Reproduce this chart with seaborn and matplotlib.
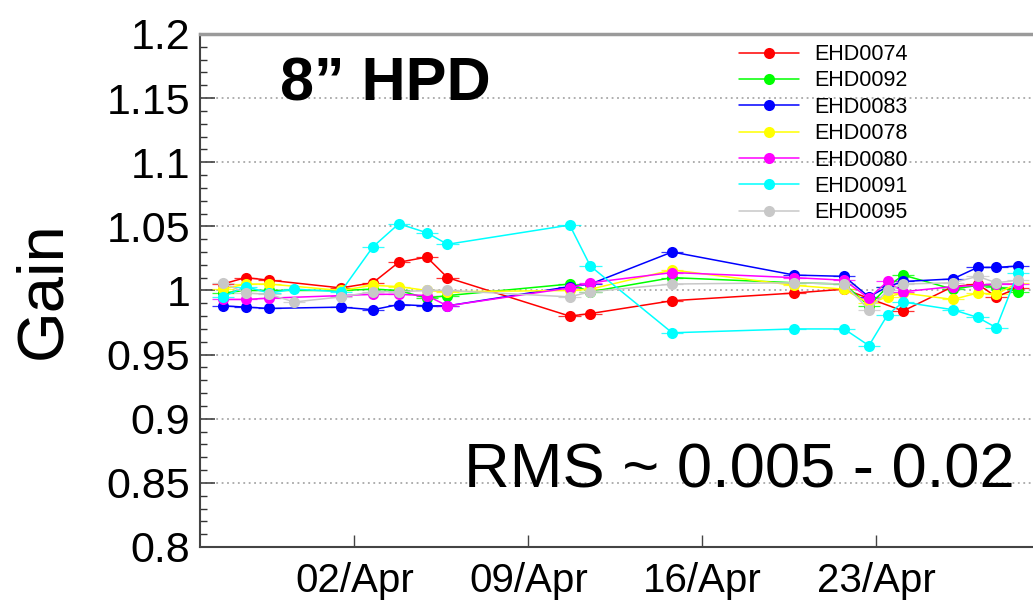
import matplotlib
matplotlib.use("Agg")
import matplotlib.pyplot as plt
import matplotlib.dates as mdates
from matplotlib.ticker import MultipleLocator
import numpy as np
import pandas as pd
import seaborn as sns

# Measurement times (one run per entry)
run_times = [
    "2014-03-27 17:00", "2014-03-28 15:00", "2014-03-29 14:00", "2014-03-30 14:00",
    "2014-04-01 11:00", "2014-04-02 18:00", "2014-04-03 19:00", "2014-04-04 22:00",
    "2014-04-05 18:00", "2014-04-10 16:00", "2014-04-11 12:00", "2014-04-14 19:00",
    "2014-04-19 17:00", "2014-04-21 17:00", "2014-04-22 17:00", "2014-04-23 11:00",
    "2014-04-24 02:00", "2014-04-26 02:00", "2014-04-27 02:00", "2014-04-27 20:00",
    "2014-04-28 17:00",
]

tubes = ["EHD0074", "EHD0092", "EHD0083", "EHD0078", "EHD0080", "EHD0091", "EHD0095"]
tube_colors = ["#ff0000", "#00ff00", "#0000ff", "#ffff00", "#ff00ff", "#00ffff", "#c8c8c8"]

# Relative gain per run (None = tube not measured in that run)
gain_ehd0074 = [1.005, 1.010, 1.008, None, 1.002, 1.006, 1.022, 1.026, 1.010, 0.980, 0.982,
                0.992, 0.998, 1.001, None, None, 0.984, 1.003, 1.005, 0.995, 1.002]
gain_ehd0092 = [0.998, 1.000, 1.000, None, 1.000, 1.001, 1.000, 0.994, 0.996, 1.005, 0.999,
                1.010, 1.006, 1.005, 0.988, 1.003, 1.012, 1.001, 1.004, 1.003, 0.999]
gain_ehd0083 = [0.988, 0.987, 0.986, None, 0.987, 0.985, 0.989, 0.988, 0.988, 1.003, 1.005,
                1.030, 1.012, 1.011, 0.995, 1.003, 1.007, 1.009, 1.018, 1.018, 1.019]
gain_ehd0078 = [1.001, 1.005, 1.005, None, 1.000, 1.004, 1.003, 1.000, 0.999, 1.000, 1.001,
                1.016, 1.004, 1.001, 0.990, 0.995, 0.998, 0.993, 0.998, 0.997, 1.006]
gain_ehd0080 = [0.993, 0.993, 0.994, None, 0.996, 0.997, 0.997, 0.996, 0.988, 1.002, 1.006,
                1.014, 1.010, 1.008, 0.994, 1.007, 0.999, 1.003, 1.004, 1.005, 1.005]
gain_ehd0091 = [0.995, 1.003, 0.998, 1.001, 0.999, 1.034, 1.052, 1.045, 1.036, 1.051, 1.019,
                0.967, 0.970, 0.970, 0.957, 0.981, 0.991, 0.985, 0.979, 0.971, 1.014]
gain_ehd0095 = [1.006, 0.998, 0.997, 0.991, 0.995, 0.999, 0.999, 1.000, 1.000, 0.995, 0.999,
                1.005, 1.006, 1.005, 0.985, 1.000, 1.005, 1.006, 1.011, 1.006, 1.008]

gain_series = [gain_ehd0074, gain_ehd0092, gain_ehd0083, gain_ehd0078,
               gain_ehd0080, gain_ehd0091, gain_ehd0095]

# Uncertainty on each point: run duration (days) and gain error
time_err_days = 0.45
gain_err = 0.003

rows = []
for tube, values in zip(tubes, gain_series):
    for t, g in zip(run_times, values):
        if g is not None:
            rows.append({"time": pd.Timestamp(t), "gain": g, "tube": tube})
df = pd.DataFrame(rows)

sns.set_theme(style="white")
plt.rcParams["font.family"] = ["Liberation Sans", "DejaVu Sans"]
for key in ["text.color", "axes.labelcolor", "xtick.color", "ytick.color"]:
    plt.rcParams[key] = "black"

fig = plt.figure(figsize=(10.33, 6.05), dpi=100)
ax = fig.add_axes([0.1936, 0.0959, 0.815, 0.848])

ax.yaxis.grid(True, which="major", color="#a8a8a8", linestyle=(0, (1, 2)), linewidth=1.3)
ax.xaxis.grid(False)
ax.set_axisbelow(True)

palette = dict(zip(tubes, tube_colors))

# Error bars drawn underneath the markers
for tube in tubes:
    sub = df[df["tube"] == tube]
    ax.errorbar(sub["time"], sub["gain"], xerr=pd.Timedelta(days=time_err_days),
                yerr=gain_err, fmt="none", ecolor=palette[tube], elinewidth=0.9,
                capsize=0, alpha=0.8, zorder=2)

sns.lineplot(data=df, x="time", y="gain", hue="tube", hue_order=tubes,
             palette=palette, marker="o", markersize=8, markeredgewidth=0,
             linewidth=1.1, sort=True, estimator=None, ax=ax, zorder=3)

ax.set_ylim(0.8, 1.2)
ax.set_xlim(pd.Timestamp("2014-03-26 19:00"), pd.Timestamp("2014-04-29 16:00"))

ax.yaxis.set_major_locator(MultipleLocator(0.05))
ax.yaxis.set_minor_locator(MultipleLocator(0.01))
ax.yaxis.set_major_formatter(plt.FuncFormatter(lambda v, p: f"{v:.2f}".rstrip("0").rstrip(".")))
ax.xaxis.set_major_locator(mdates.DayLocator(bymonthday=[2, 9, 16, 23]))
ax.xaxis.set_major_formatter(mdates.DateFormatter("%d/%b"))

ax.tick_params(axis="y", which="major", direction="in", length=11, width=1.2,
               labelsize=31, pad=7, left=True, colors="black")
ax.tick_params(axis="y", which="minor", direction="in", length=5, width=1.0, left=True,
               color="#333333")
ax.tick_params(axis="x", which="major", direction="in", length=9, width=1.0,
               labelsize=29, pad=11, bottom=True, colors="black")
ax.tick_params(axis="x", which="major", color="#444444")
ax.tick_params(axis="y", which="major", color="#444444")

for side in ["left", "bottom", "top"]:
    ax.spines[side].set_color("#444444")
    ax.spines[side].set_linewidth(1.5)
ax.spines["top"].set_color("#9a9a9a")
ax.spines["top"].set_linewidth(2.5)
ax.spines["right"].set_visible(False)

ax.set_xlabel("")
ax.set_ylabel("Gain", fontsize=47, labelpad=24)

ax.text(0.095, 0.871, "8\u201d HPD", transform=ax.transAxes, fontsize=44,
        fontweight="bold", ha="left", va="baseline")
ax.text(0.968, 0.115, "RMS ~ 0.005 - 0.02", transform=ax.transAxes, fontsize=45.5,
        ha="right", va="baseline")

handles, labels = ax.get_legend_handles_labels()
ax.legend(handles, labels, loc="upper left", bbox_to_anchor=(0.63, 0.997),
          frameon=False, fontsize=15.5, handlelength=2.8, handletextpad=0.7,
          labelspacing=0.25, borderaxespad=0)

fig.savefig("out.png", dpi=100)
